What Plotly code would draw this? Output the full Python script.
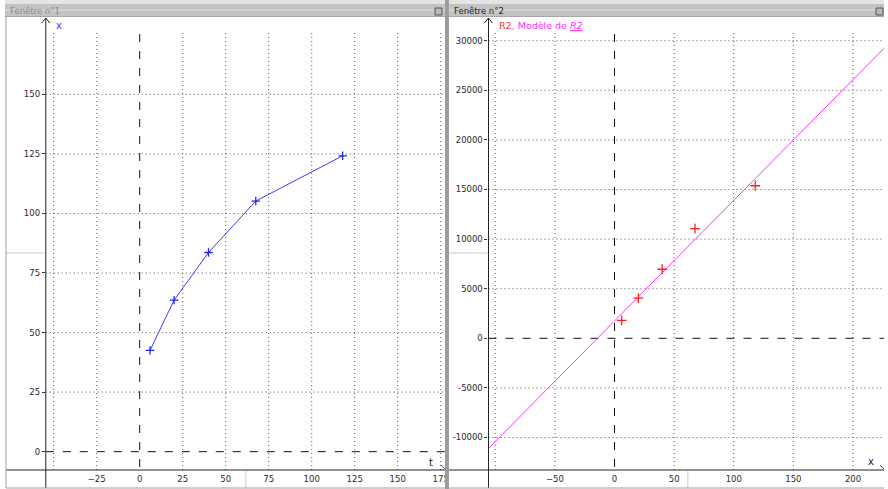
import plotly.graph_objects as go

# Measurements: time t and position x
t = [6, 20, 40, 67.5, 118]
x_vals = [42.5, 63.6, 83.6, 105.2, 124.2]

# Derived quantity R2 (x squared) plotted against t
R2 = [1810, 4060, 6960, 11050, 15380]

# Linear model of R2: R2 = slope * t + intercept
model_slope = 121.6
model_intercept = 1750

# Tick labels
left_x_ticks = [-25, 0, 25, 50, 75, 100, 125, 150, 175]
left_x_grid = [-50, -25, 25, 50, 75, 100, 125, 150, 175]
left_y_ticks = [0, 25, 50, 75, 100, 125, 150]
right_x_ticks = [-50, 0, 50, 100, 150, 200]
right_x_grid = [-100, -50, 50, 100, 150, 200]
right_y_ticks = [-10000, -5000, 0, 5000, 10000, 15000, 20000, 25000, 30000]
right_y_text = ["-10000", "-5000", "0", "5000", "10000", "15000", "20000", "25000", "30000"]

W, H = 888, 489
LEFT_RANGE_X = [-54.6, 177.5]
LEFT_RANGE_Y = [-7.7, 181.2]
RIGHT_RANGE_X = [-105.7, 226.0]
RIGHT_RANGE_Y = [-13276, 32087]


def px(v):
    return v / W


def py(v):
    return 1 - v / H


TICK_FONT = dict(family="DejaVu Sans", size=8.5, color="#2a2a2a")
AX = dict(showgrid=False, zeroline=False, showline=False)
GRID_LINE = dict(color="#555555", width=1, dash="1px,3px")

fig = go.Figure()

# Left window: x versus t
fig.add_trace(go.Scatter(
    x=t, y=x_vals, mode="lines+markers", xaxis="x", yaxis="y",
    line=dict(color="#3b3bff", width=1),
    marker=dict(symbol="cross-thin", size=6, color="#2020ff",
                line=dict(color="#2020ff", width=1.3)),
    showlegend=False, hoverinfo="skip",
))

# Right window: model line and R2 points
mx = RIGHT_RANGE_X
fig.add_trace(go.Scatter(
    x=mx, y=[model_slope * v + model_intercept for v in mx],
    mode="lines", xaxis="x2", yaxis="y2",
    line=dict(color="#ff33ff", width=1),
    showlegend=False, hoverinfo="skip",
))
fig.add_trace(go.Scatter(
    x=t, y=R2, mode="markers", xaxis="x2", yaxis="y2",
    marker=dict(symbol="cross-thin", size=7, color="#ff2020",
                line=dict(color="#ff2020", width=1.3)),
    showlegend=False, hoverinfo="skip",
))

y_dom = [py(470), py(20)]
fig.update_layout(
    width=W, height=H,
    margin=dict(l=0, r=0, t=0, b=0),
    paper_bgcolor="white", plot_bgcolor="white",
    xaxis=dict(domain=[px(46), px(447)], range=LEFT_RANGE_X, anchor="y",
               tickmode="array", tickvals=left_x_ticks,
               ticks="", tickfont=TICK_FONT, ticklabelstandoff=2, **AX),
    yaxis=dict(domain=y_dom, range=LEFT_RANGE_Y, anchor="x",
               tickmode="array", tickvals=left_y_ticks,
               ticks="outside", ticklen=3, tickcolor="#333333",
               tickfont=TICK_FONT, **AX),
    xaxis2=dict(domain=[px(490.7), 1.0], range=RIGHT_RANGE_X, anchor="y2",
                tickmode="array", tickvals=right_x_ticks,
                ticks="", tickfont=TICK_FONT, ticklabelstandoff=2, **AX),
    yaxis2=dict(domain=y_dom, range=RIGHT_RANGE_Y, anchor="x2",
                tickmode="array", tickvals=right_y_ticks, ticktext=right_y_text,
                ticks="outside", ticklen=3, tickcolor="#333333",
                tickfont=TICK_FONT, **AX),
)

shapes = []

# Dotted grid (zero lines are drawn dashed separately)
for xa, ya, xg, yg in (("x", "y", left_x_grid, [v for v in left_y_ticks if v != 0]),
                       ("x2", "y2", right_x_grid, [v for v in right_y_ticks if v != 0])):
    for v in xg:
        shapes.append(dict(type="line", xref=xa, yref="paper", x0=v, x1=v,
                           y0=py(470), y1=py(33), line=GRID_LINE, layer="below"))
    for v in yg:
        shapes.append(dict(type="line", xref=f"{xa} domain", yref=ya, x0=0, x1=1,
                           y0=v, y1=v, line=GRID_LINE, layer="below"))
    # Dashed zero lines
    shapes.append(dict(type="line", xref=xa, yref="paper", x0=0, x1=0,
                       y0=py(467), y1=py(34),
                       line=dict(color="#111111", width=1, dash="8px,9px"), layer="below"))
    shapes.append(dict(type="line", xref=f"{xa} domain", yref=ya, x0=0, x1=1, y0=0, y1=0,
                       line=dict(color="#111111", width=1, dash="8px,9px"), layer="below"))


def pline(x0, y0, x1, y1, color="#222222", width=1):
    shapes.append(dict(type="line", xref="paper", yref="paper",
                       x0=px(x0), y0=py(y0), x1=px(x1), y1=py(y1),
                       line=dict(color=color, width=width)))


def prect(x0, y0, x1, y1, fill, line=None):
    shapes.append(dict(type="rect", xref="paper", yref="paper",
                       x0=px(x0), y0=py(y0), x1=px(x1), y1=py(y1),
                       fillcolor=fill,
                       line=dict(width=0 if line is None else 1,
                                 color=line or fill),
                       layer="above"))


# Panel frames and axis lines
for (left, yax, right, split) in ((6, 46, 447, 247), (451, 490.7, 888, 691)):
    pline(left, 470, right, 470, color="#222222")          # horizontal axis
    pline(yax, 18, yax, 488, color="#222222")              # vertical axis
    pline(yax, 18, yax - 4, 23, color="#222222")           # arrow head
    pline(yax, 18, yax + 4, 23, color="#222222")
    pline(left, 253, yax - 1, 253, color="#c8c8c8")
    pline(split, 471, split, 488, color="#c8c8c8")
    pline(right - 4, 465, right, 469, color="#555555")     # arrow at axis end
    pline(left, 488, right, 488, color="#a0a0a0")

pline(6, 17, 6, 488, color="#a0a0a0")

# Separator between the two windows
prect(447, 0, 451, 489, "#9c9c9c")

# Title bars
for (x0, x1) in ((5, 447), (451, 888)):
    prect(x0, 0, x1, 4, "#e4e4e4")
    prect(x0, 4, x1, 17, "#c3c3c3")
    prect(x0, 9, x1, 11, "#d2d2d2")
    prect(x0, 16, x1, 17, "#a8a8a8")

# Window buttons
prect(437, 8, 444, 15, "#b8b8b8", line="#555555")
prect(880, 8, 887, 15, "#b8b8b8", line="#555555")

fig.update_layout(shapes=shapes)

TITLE_FONT = dict(family="DejaVu Sans", size=8.5)
annotations = [
    dict(text="Fenêtre n°1", x=px(8), y=py(11), xanchor="left", yanchor="middle",
         font=dict(TITLE_FONT, color="#8a8a8a")),
    dict(text="Fenêtre n°2", x=px(454), y=py(11), xanchor="left", yanchor="middle",
         font=dict(TITLE_FONT, color="#222222")),
    dict(text="x", x=px(54), y=py(25), xanchor="left", yanchor="middle",
         font=dict(family="DejaVu Sans", size=10, color="#3b3bff")),
    dict(text="<span style='color:#ff3030'>R2</span>, Modèle de <i><u>R2</u></i>",
         x=px(499), y=py(25), xanchor="left", yanchor="middle",
         font=dict(family="DejaVu Sans", size=9.5, color="#ff30ff")),
    dict(text="t", x=px(433), y=py(462), xanchor="center", yanchor="middle",
         font=dict(family="DejaVu Sans", size=10, color="#222222")),
    dict(text="x", x=px(875), y=py(461), xanchor="center", yanchor="middle",
         font=dict(family="DejaVu Sans", size=10, color="#222222")),
]
for a in annotations:
    a.update(xref="paper", yref="paper", showarrow=False)
fig.update_layout(annotations=annotations)

fig.write_html("out.html")
